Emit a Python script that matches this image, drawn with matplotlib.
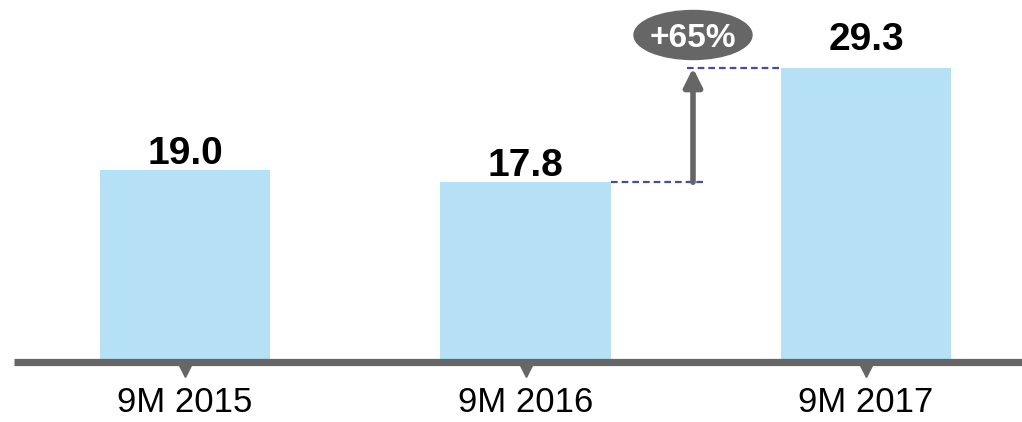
import matplotlib.pyplot as plt
from matplotlib.patches import Ellipse

plt.rcParams['font.family'] = ['Liberation Sans', 'DejaVu Sans']

categories = ['9M 2015', '9M 2016', '9M 2017']
values = [19.0, 17.8, 29.3]
growth_label = '+65%'

bar_color = '#b5e0f5'
grey = '#666666'
dash_color = '#4b4b9b'

fig = plt.figure(figsize=(10.22, 4.22), dpi=100)
ax = fig.add_axes([0, 0, 1, 1])

# pixel layout: bar centres at 185 / 525 / 866 px, base at 359 px, ~9.93 px per unit
px_unit = 340.5
py_unit = 9.93
ax.set_xlim(-185 / px_unit, (1022 - 185) / px_unit)
ax.set_ylim(-(422 - 359) / py_unit, 359 / py_unit)
ax.axis('off')
top = 359 / py_unit

x = list(range(len(categories)))
ax.bar(x, values, width=0.5, color=bar_color, zorder=2)

# value labels (last one sits a bit higher to clear the dashed line)
offsets = [0.6, 0.6, 1.8]
for xi, v, off in zip(x, values, offsets):
    ax.text(xi, v + off, f'{v:.1f}', ha='center', va='baseline',
            fontsize=28, fontweight='bold', color='black')

# baseline with small down-pointing ticks
ax.plot([(14 - 185) / px_unit, 2.46], [-0.35, -0.35], color=grey, lw=5.2,
        solid_capstyle='butt', zorder=3)
ax.plot(x, [-1.15] * len(x), linestyle='none', marker='v', markersize=10,
        color=grey, zorder=3)

for xi, c in zip(x, categories):
    ax.text(xi, -5.34, c, ha='center', va='baseline', fontsize=25, color='black')

# growth arrow between 9M 2016 and 9M 2017
xa = (693 - 185) / px_unit
dash = (0, (3, 1.8))
ax.plot([1.25, xa + 0.03], [values[1], values[1]], ls=dash,
        color=dash_color, lw=1.6, zorder=1)
ax.plot([xa - 0.018, 1.75], [values[2], values[2]], ls=dash,
        color=dash_color, lw=1.6, zorder=1)
ax.annotate('', xy=(xa, values[2]), xytext=(xa, values[1]),
            arrowprops=dict(arrowstyle='-|>,head_width=0.55,head_length=1.1',
                            color=grey, lw=4, shrinkA=0, shrinkB=0))

ell = Ellipse((xa, top - 35 / py_unit), width=118 / px_unit,
              height=49 / py_unit, color=grey, zorder=4)
ax.add_patch(ell)
ax.text(xa, top - 47 / py_unit, growth_label, ha='center',
        va='baseline', fontsize=24, fontweight='bold', color='white', zorder=5)

fig.savefig('out.png', dpi=100)
